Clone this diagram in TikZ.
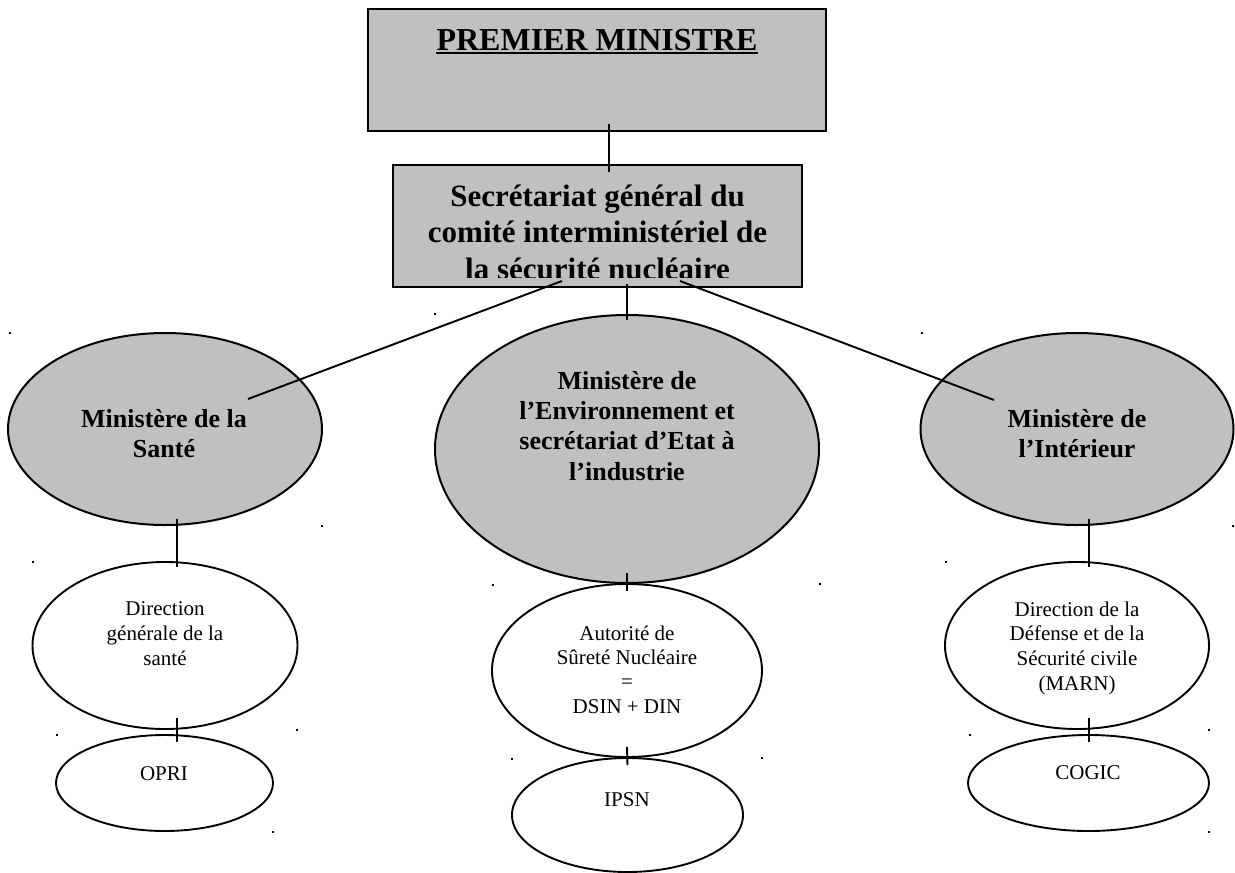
\documentclass[tikz,border=0pt]{standalone}
\usepackage{fontspec}
\setmainfont{Liberation Serif}
\usetikzlibrary{shapes.geometric,calc}
\definecolor{boxgray}{HTML}{C0C0C0}
\newcommand{\mylines}[1]{\begin{tabular}[t]{@{}c@{}}#1\end{tabular}}
\tikzset{
  graybox/.style={draw,fill=boxgray,line width=2pt,inner sep=0pt,rectangle},
  grayell/.style={draw,fill=boxgray,line width=2pt,inner sep=0pt,ellipse},
  whiteell/.style={draw,fill=white,line width=1.9pt,inner sep=0pt,ellipse},
  conn/.style={line width=1.9pt},
  txt/.style={inner sep=0pt,anchor=base},
  bigbold/.style={font=\fontsize{26}{30}\selectfont\bfseries},
  smallreg/.style={font=\fontsize{21}{24.6}\selectfont},
  speck/.style={fill=black,minimum size=2.6pt,inner sep=0pt,rectangle}
}
\begin{document}
\begin{tikzpicture}[x=1pt,y=-1pt]
\useasboundingbox (0,0) rectangle (1235,873);
% top boxes
\node[graybox,minimum width=458pt,minimum height=122pt] (pm) at (597,70) {};
\node[txt,font=\fontsize{32}{38}\selectfont\bfseries] (pmT) at (597,50) {PREMIER MINISTRE};
\draw[line width=2pt] ($(pmT.base west)+(0,3)$) -- ($(pmT.base east)+(0,3)$);
\node[graybox,minimum width=409pt,minimum height=122pt] (sg) at (597.5,226) {};
\begin{scope}
\clip ($(sg.north west)+(1,1)$) rectangle ($(sg.south east)+(-1,-11)$);
\node[txt,font=\fontsize{31}{36.5}\selectfont\bfseries] (sgT) at (597.5,206)
  {\fontsize{31}{36.5}\selectfont\mylines{Secrétariat général du\\comité interministériel de\\la sécurité nucléaire}};
\end{scope}
% ministries
\node[grayell,minimum width=314pt,minimum height=192pt] (sante) at (165,429) {};
\node[grayell,minimum width=384pt,minimum height=268pt] (env) at (627,449) {};
\node[grayell,minimum width=313pt,minimum height=192pt] (inter) at (1077,429) {};
\node[txt,bigbold] (santeT) at (164,427) {\fontsize{26}{30}\selectfont\mylines{Ministère de la\\Santé}};
\node[txt,bigbold] (envT) at (627,389) {\fontsize{26}{30.4}\selectfont\mylines{Ministère de\\l’Environnement et\\secrétariat d’Etat à\\l’industrie}};
\node[txt,bigbold] (interT) at (1077,427) {\fontsize{26}{30}\selectfont\mylines{Ministère de\\l’Intérieur}};
% directions
\node[whiteell,minimum width=265pt,minimum height=167pt] (dgs) at (165,645.5) {};
\node[whiteell,minimum width=270pt,minimum height=173pt] (asn) at (627,670.5) {};
\node[whiteell,minimum width=264pt,minimum height=167pt] (ddsc) at (1077,645.5) {};
\node[txt,smallreg] (dgsT) at (165,615) {\fontsize{21}{25}\selectfont\mylines{Direction\\générale de la\\santé}};
\node[txt,smallreg] (asnT) at (627,640) {\fontsize{21}{24.4}\selectfont\mylines{Autorité de\\Sûreté Nucléaire\\=\\DSIN + DIN}};
\node[txt,smallreg] (ddscT) at (1077,616) {\fontsize{21}{24.7}\selectfont\mylines{Direction de la\\Défense et de la\\Sécurité civile\\(MARN)}};
% agencies
\node[whiteell,minimum width=217pt,minimum height=96pt] (opri) at (164.5,783) {};
\node[whiteell,minimum width=231pt,minimum height=114pt] (ipsn) at (627.5,815) {};
\node[whiteell,minimum width=241pt,minimum height=96pt] (cogic) at (1088.5,783) {};
\node[txt,smallreg] (opriT) at (164,780) {OPRI};
\node[txt,smallreg] (ipsnT) at (627,806) {IPSN};
\node[txt,smallreg] (cogicT) at (1088,779) {COGIC};
% connectors
\draw[conn] ($(pm.south)+(12,-8)$) -- ($(sg.north)+(11.5,8)$);
\draw[conn] ($(sg.south)+(-35.5,-7)$) -- ($(sante.center)+(83,-30)$);
\draw[conn] ($(sg.south)+(29.5,-4)$) -- ($(env.north)+(0,6)$);
\draw[conn] ($(sg.south)+(82.5,-7)$) -- ($(inter.center)+(-83,-29)$);
\draw[conn] ($(sante.south)+(12,-7)$) -- ($(dgs.north)+(12,6)$);
\draw[conn] ($(env.south)+(0,-11)$) -- ($(asn.north)+(0,8)$);
\draw[conn] ($(inter.south)+(12,-7)$) -- ($(ddsc.north)+(12,6)$);
\draw[conn] ($(dgs.south)+(12,-12)$) -- ($(opri.north)+(12.5,8)$);
\draw[conn] ($(asn.south)+(0,-11)$) -- ($(ipsn.north)+(0,8)$);
\draw[conn] ($(ddsc.south)+(12,-12)$) -- ($(cogic.north)+(0.5,8)$);
% stray specks
\foreach \p [count=\i] in {(10,333),(435,314),(922,333),(322,526),(1233,526),(33,562),(946,562),(493,585),(820,584),(57,735),(297,730),(970,735),(1209,730),(512,759),(762,758),(273,832),(1209,832)}
  \node[speck] (sp\i) at \p {};
\end{tikzpicture}
\end{document}
